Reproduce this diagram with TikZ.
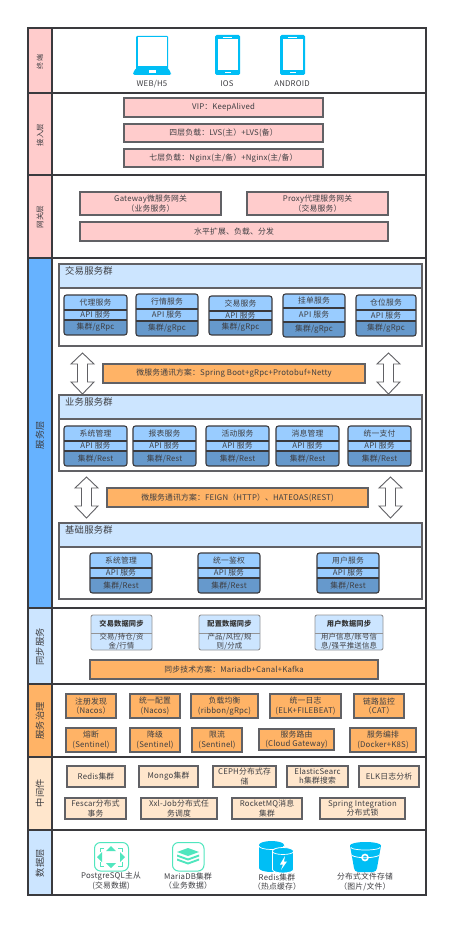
\documentclass[tikz,border=0pt]{standalone}
\usepackage{fontspec}
\setmainfont[LetterSpace=2.5]{Noto Sans CJK SC}
\usepackage{tikz}
\definecolor{FrameGray}{RGB}{58,58,62}
\definecolor{InkGray}{RGB}{62,62,66}
\definecolor{PinkFill}{RGB}{255,204,204}
\definecolor{ServiceBlue}{RGB}{102,178,255}
\definecolor{PaleBlue}{RGB}{204,229,255}
\definecolor{CardBlue}{RGB}{153,204,255}
\definecolor{CardDeep}{RGB}{102,153,204}
\definecolor{OrangeFill}{RGB}{255,179,102}
\definecolor{CreamFill}{RGB}{255,230,204}
\definecolor{IconBlue}{RGB}{0,190,245}
\definecolor{IconTeal}{RGB}{80,230,190}
\tikzset{
  txt/.style={text=InkGray,font=\fontsize{7.8}{9.4}\selectfont,align=center,inner sep=0pt},
  framed/.style={draw=FrameGray,line width=1.1pt},
  softline/.style={draw=FrameGray!80,line width=1.3pt},
}
% layer strip on the left: name, top, bottom, fill, label size, label y, label
\newcommand{\layerrow}[7]{%
  \draw[framed,fill=white] (52,#2) rectangle (426,#3);
  \draw[framed,fill=#4] (28,#2) rectangle (52,#3);
  \node[txt,rotate=90,font=\fontsize{#5}{#5}\selectfont] (#1) at (40,#6) {#7};}
% plain box: name, fill, x1, y1, x2, y2, text
\newcommand{\tagbox}[7]{%
  \draw[softline,fill=#2] (#3,#4) rectangle (#5,#6) node[midway,txt] (#1) {#7};}
% service card: name, x1, x2, top, line, line, bottom, title, tail
\newcommand{\svccard}[9]{%
  \begin{scope}
    \clip[rounded corners=2.5pt] (#2,#4) rectangle (#3,#7);
    \fill[CardBlue] (#2,#4) rectangle (#3,#6);
    \fill[CardDeep] (#2,#6) rectangle (#3,#7);
  \end{scope}
  \draw[framed,rounded corners=2.5pt] (#2,#4) rectangle (#3,#7);
  \draw[framed] (#2,#5) -- (#3,#5);
  \draw[framed] (#2,#6) -- (#3,#6);
  \node[txt] (#1a) at ({(#2+#3)/2},{(#4+#5)/2}) {#8};
  \node[txt] (#1b) at ({(#2+#3)/2},{(#5+#6)/2}) {API 服务};
  \node[txt] (#1c) at ({(#2+#3)/2},{(#6+#7)/2}) {#9};}
% group of services: name, top, header line, bottom, title
\newcommand{\svcgroup}[5]{%
  \draw[softline,fill=white] (59,#2) rectangle (422,#4);
  \draw[softline,fill=PaleBlue] (59,#2) rectangle (422,#3);
  \node[txt,anchor=west,font=\fontsize{9.3}{11}\selectfont] (#1) at (65,#2+7) {#5};}
% hollow double arrow: x, top, bottom
\newcommand{\updown}[3]{%
  \draw[softline,line width=0.9pt,fill=white] (#1,#2) -- ++(11.5,11) -- ++(-6.5,0) -- (#1+5,#3-12)
    -- ++(6.5,0) -- (#1,#3) -- ++(-11.5,-12) -- ++(6.5,0) -- (#1-5,#2+11) -- ++(-6.5,0) -- cycle;}
% phone: x1
\newcommand{\phoneicon}[1]{%
  \fill[IconBlue,rounded corners=1.5pt] (#1,35) rectangle (#1+25,75);
  \fill[white] (#1+2.5,39) rectangle (#1+22.5,70);
  \fill[white] (#1+8,36.6) rectangle (#1+17,37.6);
  \fill[white] (#1+9.5,71.8) rectangle (#1+15.5,73.2);}
% sync card: name, x1, x2, title, detail
\newcommand{\synccard}[5]{%
  \draw[draw=FrameGray!55,line width=0.9pt,fill=PaleBlue,rounded corners=2pt] (#2,615) rectangle (#3,650);
  \draw[draw=FrameGray!55,line width=0.9pt] (#2,633) -- (#3,633);
  \node[txt,font=\fontsize{7.2}{9}\selectfont\bfseries,text=black!80] (#1a) at ({(#2+#3)/2},624) {#4};
  \node[txt,font=\fontsize{7.4}{8.6}\selectfont] (#1b) at ({(#2+#3)/2},641.5) {#5};}
\begin{document}
\begin{tikzpicture}[x=1pt,y=-1pt]
  \useasboundingbox (0,0) rectangle (462,931);
  \fill[white] (0,0) rectangle (462,931);
  \layerrow{endrow}{28}{93}{PinkFill}{7}{62}{终端}
  \layerrow{accessrow}{93}{175}{PinkFill}{7.4}{135}{接入层}
  \layerrow{gaterow}{175}{258}{PinkFill}{7.6}{217}{网关层}
  \layerrow{servicerow}{258}{608}{ServiceBlue}{9.2}{435}{服务层}
  \layerrow{syncrow}{608}{684}{PaleBlue}{9.2}{647}{同步服务}
  \layerrow{governrow}{684}{757}{OrangeFill}{9.2}{721}{服务治理}
  \layerrow{midrow}{757}{830}{CreamFill}{9.2}{793}{中间件}
  \layerrow{datarow}{830}{895}{PaleBlue}{9.2}{863}{数据层}

  \fill[IconBlue,rounded corners=1pt] (136,36) rectangle (168,70);
  \fill[white] (137.5,37.5) rectangle (166.5,66);
  \fill[IconBlue,rounded corners=1.5pt] (136,68) -- (168,68) -- (171,73) -- (171,75) -- (133,75) -- (133,73) -- cycle;
  \fill[white] (148.5,70.5) rectangle (155.5,72.8);
  \phoneicon{215}
  \phoneicon{280}
  \node[txt] (webname) at (152,84) {WEB/H5};
  \node[txt] (iosname) at (227,84) {IOS};
  \node[txt] (droidname) at (292,84) {ANDROID};

  \tagbox{vip}{PinkFill}{124}{98}{323}{117}{VIP：KeepAlived}
  \tagbox{lvs}{PinkFill}{124}{124}{323}{142}{四层负载：LVS(主）+LVS(备）}
  \tagbox{nginx}{PinkFill}{124}{149}{323}{167}{七层负载：Nginx(主/备）+Nginx(主/备）}
  \tagbox{gateway}{PinkFill}{80}{192}{221}{215}{Gateway微服务网关\\（业务服务）}
  \tagbox{proxy}{PinkFill}{247}{192}{388}{215}{Proxy代理服务网关\\（交易服务）}
  \tagbox{scale}{PinkFill}{80}{222}{388}{241}{水平扩展、负载、分发}

  \svcgroup{tradegroup}{264}{288}{346}{交易服务群}
  \svccard{agent}{64}{127}{295}{310}{320}{335}{代理服务}{集群/gRpc}
  \svccard{quote}{136}{198}{294}{309}{321}{336}{行情服务}{集群/gRpc}
  \svccard{trade}{209}{272}{296}{311}{320}{335}{交易服务}{集群/gRpc}
  \svccard{order}{283}{345}{294}{308}{322}{337}{挂单服务}{集群/gRpc}
  \svccard{stock}{356}{416}{295}{310}{321}{336}{仓位服务}{集群/gRpc}
  \updown{82.5}{353}{394}
  \updown{388.5}{353}{394}
  \tagbox{rpcplan}{OrangeFill}{103}{364}{365}{383}{微服务通讯方案：Spring Boot+gRpc+Protobuf+Netty}

  \svcgroup{bizgroup}{395}{419}{471}{业务服务群}
  \svccard{sysa}{64}{127}{426}{441}{451}{466}{系统管理}{集群/Rest}
  \svccard{report}{133}{196}{426}{441}{451}{466}{报表服务}{集群/Rest}
  \svccard{event}{206}{269}{426}{441}{451}{466}{活动服务}{集群/Rest}
  \svccard{message}{276}{339}{426}{441}{451}{466}{消息管理}{集群/Rest}
  \svccard{pay}{348}{411}{426}{441}{451}{466}{统一支付}{集群/Rest}
  \updown{86.5}{477}{518}
  \updown{390.5}{477}{518}
  \tagbox{restplan}{OrangeFill}{107}{488}{368}{507}{微服务通讯方案：FEIGN（HTTP）、HATEOAS(REST)}

  \svcgroup{basegroup}{523}{547}{599}{基础服务群}
  \svccard{sysb}{90}{152}{553}{568}{578}{593}{系统管理}{集群/Rest}
  \svccard{auth}{198}{260}{553}{568}{578}{593}{统一鉴权}{集群/Rest}
  \svccard{user}{317}{379}{553}{568}{578}{593}{用户服务}{集群/Rest}

  \synccard{syncx}{91}{152}{交易数据同步}{交易/持仓/资\\金/行情}
  \synccard{syncy}{199}{260}{配置数据同步}{产品/风控/规\\则/分成}
  \synccard{syncz}{315}{383}{用户数据同步}{用户信息/账号信\\息/强平推送信息}
  \tagbox{syncplan}{OrangeFill}{90}{660}{378}{679}{同步技术方案：Mariadb+Canal+Kafka}

  \tagbox{nacosa}{OrangeFill}{66}{694}{116}{718}{注册发现\\（Nacos）}
  \tagbox{nacosb}{OrangeFill}{130}{694}{180}{718}{统一配置\\(Nacos)}
  \tagbox{ribbon}{OrangeFill}{191}{694}{258}{718}{负载均衡\\(ribbon/gRpc)}
  \tagbox{elk}{OrangeFill}{270}{694}{341}{718}{统一日志\\(ELK+FILEBEAT)}
  \tagbox{cat}{OrangeFill}{354}{694}{404}{718}{链路监控\\（CAT）}
  \tagbox{fuse}{OrangeFill}{66}{728}{116}{752}{熔断\\(Sentinel)}
  \tagbox{degrade}{OrangeFill}{130}{728}{180}{752}{降级\\(Sentinel)}
  \tagbox{limit}{OrangeFill}{192}{728}{242}{752}{限流\\(Sentinel)}
  \tagbox{route}{OrangeFill}{259}{729}{334}{750}{服务路由\\(Cloud Gateway)}
  \tagbox{deploy}{OrangeFill}{350}{728}{416}{752}{服务编排\\(Docker+K8S)}

  \tagbox{redismw}{CreamFill}{67}{766}{125}{787}{Redis集群}
  \tagbox{mongo}{CreamFill}{139}{766}{198}{787}{Mongo集群}
  \tagbox{ceph}{CreamFill}{213}{766}{276}{787}{CEPH分布式存\\储}
  \tagbox{elastic}{CreamFill}{287}{766}{348}{787}{ElasticSearc\\h集群搜索}
  \tagbox{elklog}{CreamFill}{359}{766}{419}{787}{ELK日志分析}
  \tagbox{fescar}{CreamFill}{65}{798}{126}{819}{Fescar分布式\\事务}
  \tagbox{xxl}{CreamFill}{141}{798}{217}{819}{Xxl-Job分布式任\\务调度}
  \tagbox{rocket}{CreamFill}{232}{798}{302}{819}{RocketMQ消息\\集群}
  \tagbox{spring}{CreamFill}{320}{798}{405}{819}{Spring Integration\\分布式锁}

  \draw[IconTeal,line width=1pt,rounded corners=6pt] (94.5,842.5) rectangle (128.5,871);
  \fill[IconTeal] (111,846) -- (116,851) -- (106,851) -- cycle;
  \fill[IconTeal] (111,868) -- (116,863) -- (106,863) -- cycle;
  \fill[IconTeal] (125,857) -- (120,852) -- (120,862) -- cycle;
  \fill[IconTeal] (97,857) -- (102,852) -- (102,862) -- cycle;
  \draw[IconTeal,line width=0.9pt] (104,848) -- (100,848) -- (100,852) (118,848) -- (122,848) -- (122,852)
    (104,866) -- (100,866) -- (100,862) (118,866) -- (122,866) -- (122,862);
  \draw[IconTeal,line width=1pt,rounded corners=6pt] (172.5,842.5) rectangle (204,871);
  \fill[IconTeal] (188,848) -- (199,852) -- (188,856) -- (177,852) -- cycle;
  \fill[IconTeal] (177,854.5) -- (188,858.5) -- (199,854.5) -- (199,856.5) -- (188,860.5) -- (177,856.5) -- cycle;
  \fill[IconTeal] (177,858.5) -- (188,862.5) -- (199,858.5) -- (199,860.5) -- (188,864.5) -- (177,860.5) -- cycle;
  \node[txt] (pgname) at (111,881) {PostgreSQL主从\\(交易数据)};
  \node[txt] (marianame) at (188,881) {MariaDB集群\\（业务数据）};

  \fill[IconBlue] (259,845) arc[start angle=180,end angle=360,x radius=12.5,y radius=4] -- (284,868) arc[start angle=0,end angle=180,x radius=12.5,y radius=4] -- cycle;
  \draw[white,line width=0.7pt] (259,846) arc[start angle=180,end angle=0,x radius=12.5,y radius=3.5];
  \fill[IconBlue,draw=white,line width=0.8pt] (272.5,851) arc[start angle=180,end angle=360,x radius=10.5,y radius=3.5] -- (293.5,869.5) arc[start angle=0,end angle=180,x radius=10.5,y radius=3.5] -- cycle;
  \draw[white,line width=0.7pt] (272.5,851.5) arc[start angle=180,end angle=0,x radius=10.5,y radius=3];
  \fill[white] (285,856) -- (280,864.5) -- (283,864.5) -- (281,870) -- (287,861.5) -- (284,861.5) -- cycle;
  \node[txt] (redisname) at (277,882) {Redis集群\\（热点缓存）};

  \fill[IconBlue] (350,845.5) arc[start angle=180,end angle=360,x radius=15.5,y radius=3.5] -- (377,868) arc[start angle=0,end angle=90,x radius=4,y radius=4] -- (358,872) arc[start angle=90,end angle=180,x radius=4,y radius=4] -- cycle;
  \draw[white,line width=0.7pt] (351,847.5) arc[start angle=180,end angle=0,x radius=14.5,y radius=2.5];
  \draw[white,line width=1.6pt] (365,857.5) circle[radius=3];
  \draw[white,line width=0.8pt] (352,855.5) .. controls (358,858.5) and (372,858.5) .. (379,855.5);
  \node[txt] (filename) at (365,882) {分布式文件存储\\（图片/文件）};
\end{tikzpicture}
\end{document}
